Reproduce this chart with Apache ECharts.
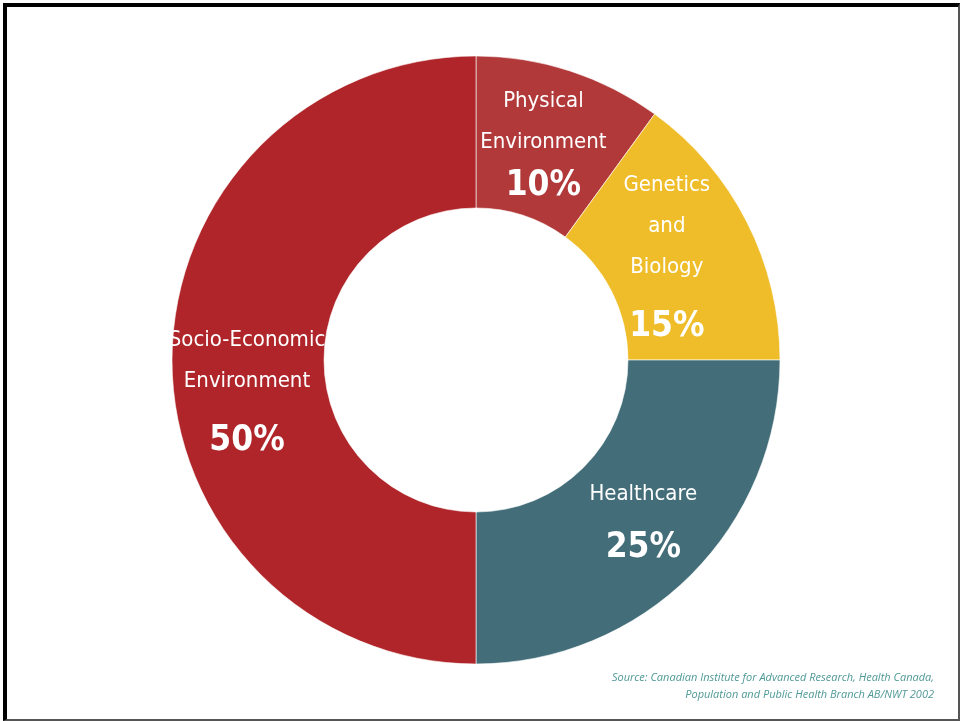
<!DOCTYPE html>
<html>
<head>
<meta charset="utf-8">
<script src="https://cdn.jsdelivr.net/npm/echarts@6/dist/echarts.min.js"></script>
<style>
html,body{margin:0;padding:0;background:#fff;}
#frame{position:absolute;left:3px;top:3px;width:951px;height:712px;border-top:4px solid #000;border-left:4px solid #000;border-right:2px solid #555;border-bottom:2px solid #555;}
#chart{position:absolute;left:0;top:0;width:961px;height:721px;}
</style>
</head>
<body>
<div id="frame"></div>
<div id="chart"></div>
<script>
const categories = ["Physical\nEnvironment", "Genetics\nand\nBiology", "Healthcare", "Socio-Economic\nEnvironment"];
const values = [10, 15, 25, 50];
const colors = ["#B2393A", "#EFBD2A", "#436E79", "#AF2529"];
const sourceLines = ["Source: Canadian Institute for Advanced Research, Health Canada,", "Population and Public Health Branch AB/NWT 2002"];

const FONT = "'Liberation Sans Narrow', 'DejaVu Sans Condensed', 'Roboto', sans-serif";
const chart = echarts.init(document.getElementById('chart'));
const offsets = [[-4, 5], [-15, 10], [4, 4], [2, 40]];
const pctLH = [48, 78, 66, 78];
chart.setOption({
  animation: false,
  series: [{
    type: 'pie',
    center: [476, 360],
    radius: [152, 304],
    startAngle: 90,
    clockwise: true,
    avoidLabelOverlap: false,
    itemStyle: { borderColor: 'rgba(255,255,255,0.6)', borderWidth: 1 },
    label: {
      show: true,
      position: 'inside',
      overflow: 'none',
      formatter: p => '{n|' + p.name.split('\n').join('}\n{n|') + '}\n{p|' + p.value + '%}'
    },
    data: categories.map((c, i) => ({
      name: c, value: values[i],
      itemStyle: { color: colors[i] },
      label: {
        offset: offsets[i],
        overflow: 'none',
        rich: {
          n: { fontFamily: FONT, fontSize: 22, color: '#fff', lineHeight: 41 },
          p: { fontFamily: FONT, fontSize: 35, fontWeight: 'bold', color: '#fff', lineHeight: pctLH[i] }
        }
      }
    }))
  }],
  graphic: sourceLines.map((t, i) => ({
    type: 'text', right: 27, top: 672 + i * 17,
    style: { text: t, fontFamily: "'Open Sans', sans-serif", fontStyle: 'italic', fontSize: 11, fill: '#4F9996', align: 'right' }
  }))
});
</script>
</body>
</html>
